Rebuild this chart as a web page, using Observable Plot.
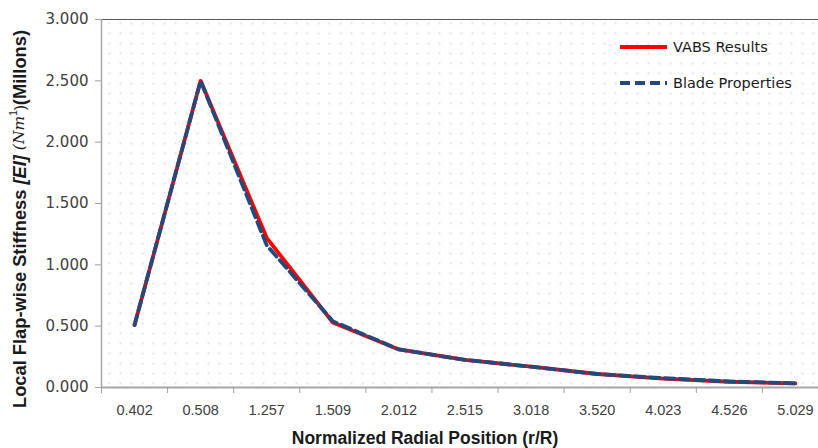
<!DOCTYPE html>
<html><head><meta charset="utf-8">
<script src="https://cdn.jsdelivr.net/npm/d3@7"></script>
<script src="https://cdn.jsdelivr.net/npm/@observablehq/plot@0.6"></script>
<style>
html,body{margin:0;padding:0;background:#fff;overflow:hidden;}
#chart{width:828px;}
#chart svg{max-width:none !important;}
</style></head><body><div id="chart"></div>
<script>
const categories = ["0.402","0.508","1.257","1.509","2.012","2.515","3.018","3.520","4.023","4.526","5.029"];
const vabsResults = [0.51, 2.50, 1.22, 0.53, 0.31, 0.225, 0.17, 0.11, 0.072, 0.047, 0.033];
const bladeProperties = [0.51, 2.50, 1.16, 0.54, 0.31, 0.225, 0.17, 0.11, 0.076, 0.049, 0.034];
const yTicks = [0, 0.5, 1, 1.5, 2, 2.5, 3];
const seriesNames = ["VABS Results", "Blade Properties"];
const seriesColors = ["#ff0000", "#24497b"];

const idx = categories.map((_, i) => i);
const vabsData = vabsResults.map((v, i) => ({i, v}));
const bladeData = bladeProperties.map((v, i) => ({i, v}));

const chart = Plot.plot({
  width: 828, height: 448,
  marginLeft: 101, marginRight: 0, marginTop: 19, marginBottom: 61,
  style: {fontFamily: "DejaVu Sans", fontSize: "15px", color: "#404040", background: "transparent", maxWidth: "none"},
  x: {domain: [-0.5, categories.length - 0.5]},
  y: {domain: [0, 3]},
  marks: [
    Plot.frame({fill: "url(#dots)", stroke: null}),
    Plot.ruleY([3], {stroke: "#595959", strokeWidth: 1.2}),
    Plot.axisY({ticks: yTicks, tickFormat: d3.format(".3f"), tickSize: 6, tickPadding: 7, stroke: "#a0a0a0", label: null, fontSize: 15}),
    Plot.ruleX([-0.5], {stroke: "#a6a6a6", strokeWidth: 1.5}),
    Plot.ruleY([0], {stroke: "#a6a6a6", strokeWidth: 2}),
    Plot.axisX({ticks: d3.range(-0.5, categories.length), tickFormat: () => "", tickSize: 6, stroke: "#a0a0a0", label: null}),
    Plot.axisX({ticks: idx, tickFormat: i => categories[i], tickSize: 0, tickPadding: 17, label: null, fontFamily: "Liberation Sans", fontSize: 14.5}),
    Plot.line(vabsData, {x: "i", y: "v", stroke: seriesColors[0], strokeWidth: 3.8}),
    Plot.line(bladeData, {x: "i", y: "v", stroke: seriesColors[1], strokeWidth: 3.8, strokeDasharray: "10,5"})
  ]
});

const svg = d3.select(chart);
const defs = svg.insert("defs", ":first-child");
const pat = defs.append("pattern").attr("id", "dots").attr("patternUnits", "userSpaceOnUse")
  .attr("width", 11).attr("height", 10).attr("x", 101).attr("y", 19);
pat.append("circle").attr("cx", 8).attr("cy", 4).attr("r", 0.8).attr("fill", "#c4c4c4");

// Y axis title
const yt = svg.append("text").attr("transform", "translate(19,219) rotate(-90)")
  .attr("text-anchor", "middle").attr("dominant-baseline", "central")
  .attr("font-family", "Liberation Sans").attr("font-size", 18.3).attr("font-weight", "bold").attr("fill", "#1a1a1a");
yt.append("tspan").text("Local Flap-wise Stiffness ");
yt.append("tspan").attr("font-style", "italic").text("[EI]");
yt.append("tspan").attr("font-style", "italic").attr("font-weight", "normal").attr("font-family", "DejaVu Serif").attr("font-size", 15.5).text(" (Nm");
yt.append("tspan").attr("font-weight", "normal").attr("font-size", 10).attr("dy", -6).text("1");
yt.append("tspan").attr("font-weight", "normal").attr("font-size", 15.5).attr("dy", 6).text(")");
yt.append("tspan").text("(Millons)");

// X axis title
svg.append("text").attr("x", 425).attr("y", 438).attr("text-anchor", "middle").attr("dominant-baseline", "central")
  .attr("font-family", "Liberation Sans").attr("font-size", 17.5).attr("font-weight", "bold").attr("fill", "#1a1a1a")
  .text("Normalized Radial Position (r/R)");

// Legend
const lg = svg.append("g").attr("font-family", "DejaVu Sans").attr("font-size", 14.5).attr("fill", "#1a1a1a").attr("text-anchor", "start");
const legendY = [47, 83];
seriesNames.forEach((name, k) => {
  lg.append("line").attr("x1", 620).attr("x2", 667).attr("y1", legendY[k]).attr("y2", legendY[k])
    .attr("stroke", seriesColors[k]).attr("stroke-width", 3.8)
    .attr("stroke-dasharray", k === 0 ? null : "10,5");
  lg.append("text").attr("x", 673).attr("y", legendY[k]).attr("dominant-baseline", "central").attr("text-anchor", "start").text(name);
});

document.getElementById("chart").appendChild(chart);
</script>
</body></html>
